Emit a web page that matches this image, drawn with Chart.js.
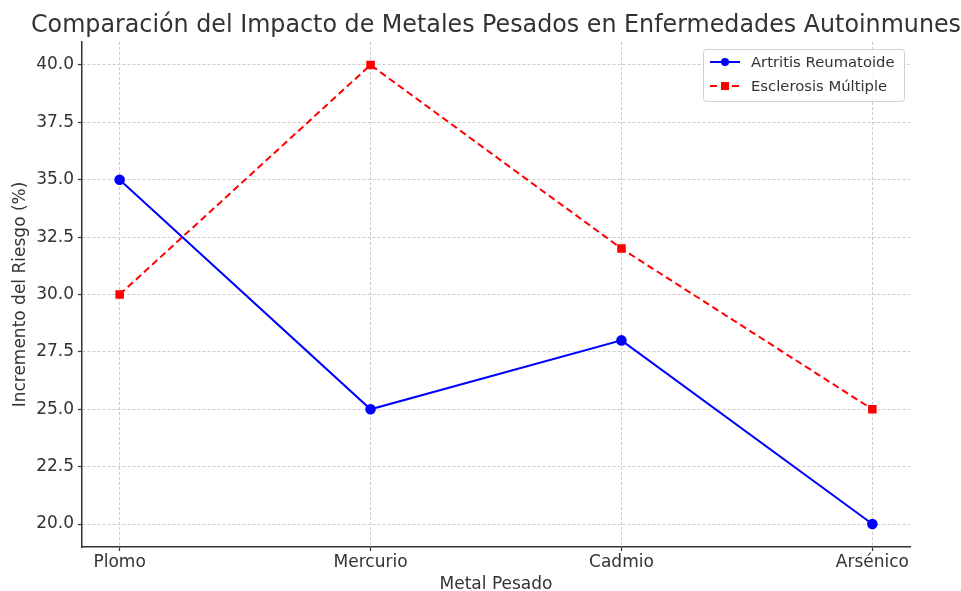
<!DOCTYPE html>
<html>
<head>
<meta charset="utf-8">
<script src="https://cdn.jsdelivr.net/npm/chart.js@4"></script>
<style>
  html, body { margin: 0; padding: 0; background: #fff; }
  #wrap { width: 961px; height: 591px; }
</style>
</head>
<body>
<div id="wrap"><canvas id="c" width="961" height="591"></canvas></div>
<script>
const metals = ['Plomo', 'Mercurio', 'Cadmio', 'Arsénico'];
const artritis = [35, 25, 28, 20];
const esclerosis = [30, 40, 32, 25];
const yTicks = [20, 22.5, 25, 27.5, 30, 32.5, 35, 37.5, 40];

const TEXT = '#333333';
const FONT = 'DejaVu Sans';

const toPoints = vals => vals.map((v, i) => ({ x: i, y: v }));

// Centre the title over the plot area while letting it run wider than the plot
const titleOverPlot = {
  id: 'titleOverPlot',
  afterLayout(chart) {
    const t = chart.titleBlock;
    const area = chart.chartArea;
    const mid = (area.left + area.right) / 2;
    const half = Math.min(mid, chart.width - mid);
    t.left = mid - half;
    t.right = mid + half;
    t.width = half * 2;
  }
};

// Boxed legend in the upper-right corner, each entry shows the line style and marker
const boxLegend = {
  id: 'boxLegend',
  afterDatasetsDraw(chart) {
    const ctx = chart.ctx;
    const area = chart.chartArea;
    const w = 201, h = 52;
    const x0 = area.right - 6 - w, y0 = area.top + 7;
    ctx.save();
    ctx.beginPath();
    ctx.roundRect(x0 + 0.5, y0 + 0.5, w, h, 3);
    ctx.fillStyle = 'rgba(255,255,255,0.85)';
    ctx.fill();
    ctx.strokeStyle = '#d0d0d0';
    ctx.lineWidth = 1;
    ctx.stroke();
    chart.data.datasets.forEach((ds, i) => {
      const cy = y0 + 13 + i * 24;
      const lx = x0 + 7;
      ctx.strokeStyle = ds.borderColor;
      ctx.lineWidth = 2;
      ctx.setLineDash(ds.borderDash || []);
      ctx.beginPath();
      ctx.moveTo(lx, cy);
      ctx.lineTo(lx + 30, cy);
      ctx.stroke();
      ctx.setLineDash([]);
      ctx.fillStyle = ds.pointBackgroundColor;
      if (ds.pointStyle === 'rect') {
        ctx.fillRect(lx + 15 - 4, cy - 4, 8, 8);
      } else {
        ctx.beginPath();
        ctx.arc(lx + 15, cy, 4, 0, Math.PI * 2);
        ctx.fill();
      }
      ctx.fillStyle = TEXT;
      ctx.font = '14.8px "' + FONT + '"';
      ctx.textBaseline = 'middle';
      ctx.textAlign = 'left';
      ctx.fillText(ds.label, lx + 41, cy + 1);
    });
    ctx.restore();
  }
};

new Chart(document.getElementById('c'), {
  type: 'line',
  data: {
    datasets: [
      {
        label: 'Artritis Reumatoide',
        data: toPoints(artritis),
        borderColor: '#0000ff',
        backgroundColor: '#0000ff',
        pointBackgroundColor: '#0000ff',
        pointBorderColor: '#0000ff',
        borderWidth: 2,
        pointStyle: 'circle',
        pointRadius: 4.3,
        pointHoverRadius: 4.3,
        tension: 0
      },
      {
        label: 'Esclerosis Múltiple',
        data: toPoints(esclerosis),
        borderColor: '#ff0000',
        backgroundColor: '#ff0000',
        pointBackgroundColor: '#ff0000',
        pointBorderColor: '#ff0000',
        borderWidth: 2,
        borderDash: [7, 4],
        pointStyle: 'rect',
        pointRadius: 4.6,
        pointHoverRadius: 4.6,
        tension: 0
      }
    ]
  },
  options: {
    responsive: false,
    animation: false,
    layout: { padding: { left: 0, right: 51, top: 0, bottom: 0 } },
    plugins: {
      legend: { display: false },
      tooltip: { enabled: false },
      title: {
        display: true,
        fullSize: false,
        text: 'Comparación del Impacto de Metales Pesados en Enfermedades Autoinmunes',
        color: TEXT,
        font: { family: FONT, size: 24.5, weight: 'normal', lineHeight: 1.2 },
        padding: { top: 10.6, bottom: 2 }
      }
    },
    scales: {
      x: {
        type: 'linear',
        min: -0.15,
        max: 3.15,
        afterFit(scale) { scale.height = 44; },
        afterBuildTicks(scale) { scale.ticks = metals.map((_, i) => ({ value: i })); },
        ticks: {
          includeBounds: false,
          color: TEXT,
          font: { family: FONT, size: 17 },
          padding: 1,
          maxRotation: 0,
          callback: v => metals[v]
        },
        grid: {
          color: '#cccccc',
          lineWidth: 1,
          tickColor: '#333333',
          tickLength: 4,
          tickWidth: 1.2
        },
        border: { display: true, color: '#333333', width: 1.5, dash: [3, 2] },
        title: {
          display: true,
          text: 'Metal Pesado',
          color: TEXT,
          font: { family: FONT, size: 17, lineHeight: 0.8 },
          padding: { top: 0, bottom: 0 }
        }
      },
      y: {
        type: 'linear',
        min: 19,
        max: 41,
        afterFit(scale) { scale.width = 82; },
        afterBuildTicks(scale) { scale.ticks = yTicks.map(v => ({ value: v })); },
        ticks: {
          includeBounds: false,
          color: TEXT,
          font: { family: FONT, size: 17 },
          padding: 4,
          callback: v => Number(v).toFixed(1)
        },
        grid: {
          color: '#cccccc',
          lineWidth: 1,
          tickColor: '#333333',
          tickLength: 4,
          tickWidth: 1.2
        },
        border: { display: true, color: '#333333', width: 1.5, dash: [3, 2] },
        title: {
          display: true,
          text: 'Incremento del Riesgo (%)',
          color: TEXT,
          font: { family: FONT, size: 17, lineHeight: 1.2 },
          padding: { top: 10, bottom: 0 }
        }
      }
    }
  },
  plugins: [titleOverPlot, boxLegend]
});
</script>
</body>
</html>
